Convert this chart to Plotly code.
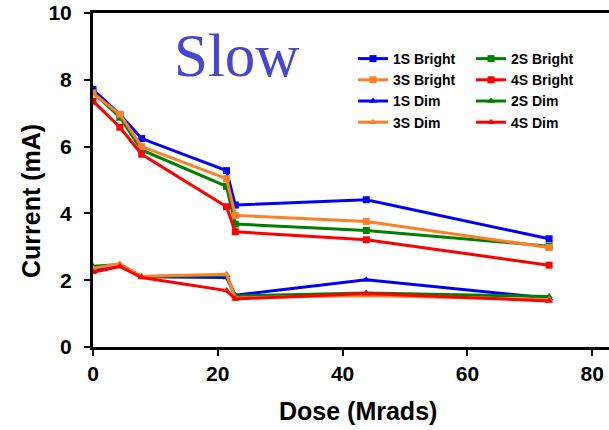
import plotly.graph_objects as go

dose = [0, 4.3, 7.8, 21.4, 22.8, 43.8, 73.1]

s1_bright = [7.71, 6.96, 6.24, 5.28, 4.25, 4.41, 3.24]
s2_bright = [7.62, 6.88, 5.90, 4.81, 3.68, 3.49, 3.02]
s3_bright = [7.60, 6.97, 6.00, 5.04, 3.94, 3.76, 2.98]
s4_bright = [7.36, 6.58, 5.77, 4.20, 3.45, 3.21, 2.45]

s1_dim = [2.30, 2.43, 2.10, 2.08, 1.55, 2.01, 1.46]
s2_dim = [2.42, 2.47, 2.10, 2.15, 1.53, 1.62, 1.51]
s3_dim = [2.36, 2.49, 2.12, 2.18, 1.47, 1.54, 1.42]
s4_dim = [2.24, 2.41, 2.08, 1.69, 1.44, 1.60, 1.38]

names = ["1S Bright", "2S Bright", "3S Bright", "4S Bright",
         "1S Dim", "2S Dim", "3S Dim", "4S Dim"]
series = [s1_bright, s2_bright, s3_bright, s4_bright,
          s1_dim, s2_dim, s3_dim, s4_dim]
colors = ["#0000FF", "#008000", "#FF7F27", "#FF0000"] * 2
symbols = ["square"] * 4 + ["triangle-up"] * 4
legend_ids = ["legend", "legend2", "legend", "legend2"] * 2

fig = go.Figure()
for name, ys, c, sym, lg in zip(names, series, colors, symbols, legend_ids):
    fig.add_trace(go.Scatter(
        x=dose, y=ys, name=name, mode="lines+markers",
        line=dict(color=c, width=3),
        marker=dict(symbol=sym, size=7, color=c),
        legend=lg,
    ))

W, H = 609, 430
L, R, T, B = 93, 0, 13, 83
PW, PH = W - L - R, H - T - B

legend_font = dict(size=14, family="Liberation Sans, Arial, sans-serif", weight="bold", color="black")
leg_y = (347 - 43) / PH

fig.update_layout(
    width=W, height=H,
    margin=dict(l=L, r=R, t=T, b=B),
    paper_bgcolor="white", plot_bgcolor="white",
    font=dict(family="Liberation Sans, Arial, sans-serif", color="black"),
    showlegend=True,
    legend=dict(
        orientation="v", x=(353 - L) / PW, y=leg_y, xanchor="left", yanchor="top",
        font=legend_font, bgcolor="rgba(0,0,0,0)", borderwidth=0, itemwidth=30,
        traceorder="normal",
    ),
    legend2=dict(
        orientation="v", x=(471 - L) / PW, y=leg_y, xanchor="left", yanchor="top",
        font=legend_font, bgcolor="rgba(0,0,0,0)", borderwidth=0, itemwidth=30,
        traceorder="normal",
    ),
    xaxis=dict(
        range=[0, 82.7], tickvals=[0, 20, 40, 60, 80],
        showgrid=False, zeroline=False,
        showline=True, linecolor="black", linewidth=3, mirror=True,
        ticks="outside", ticklen=6, tickwidth=2, tickcolor="black",
        tickfont=dict(size=21, weight="bold"),
    ),
    yaxis=dict(
        range=[0, 10], tickvals=[0, 2, 4, 6, 8, 10],
        showgrid=False, zeroline=False,
        showline=True, linecolor="black", linewidth=3,
        ticks="outside", ticklen=6, tickwidth=2, tickcolor="black",
        tickfont=dict(size=21, weight="bold"), ticklabelstandoff=8,
    ),
    annotations=[
        dict(text="Slow", xref="paper", yref="paper", x=(236 - L) / PW, y=(347 - 56) / PH,
             xanchor="center", yanchor="middle", showarrow=False,
             font=dict(family="Liberation Serif, Times New Roman, serif", size=61, color="#4646D2")),
        dict(text="Dose (Mrads)", xref="paper", yref="paper", x=(358 - L) / PW, y=(347 - 411) / PH,
             xanchor="center", yanchor="middle", showarrow=False,
             font=dict(size=25, weight="bold")),
        dict(text="Current (mA)", xref="paper", yref="paper", x=(31 - L) / PW, y=(347 - 201) / PH,
             xanchor="center", yanchor="middle", showarrow=False, textangle=-90,
             font=dict(size=25, weight="bold")),
    ],
)

fig.write_html("out.html")
